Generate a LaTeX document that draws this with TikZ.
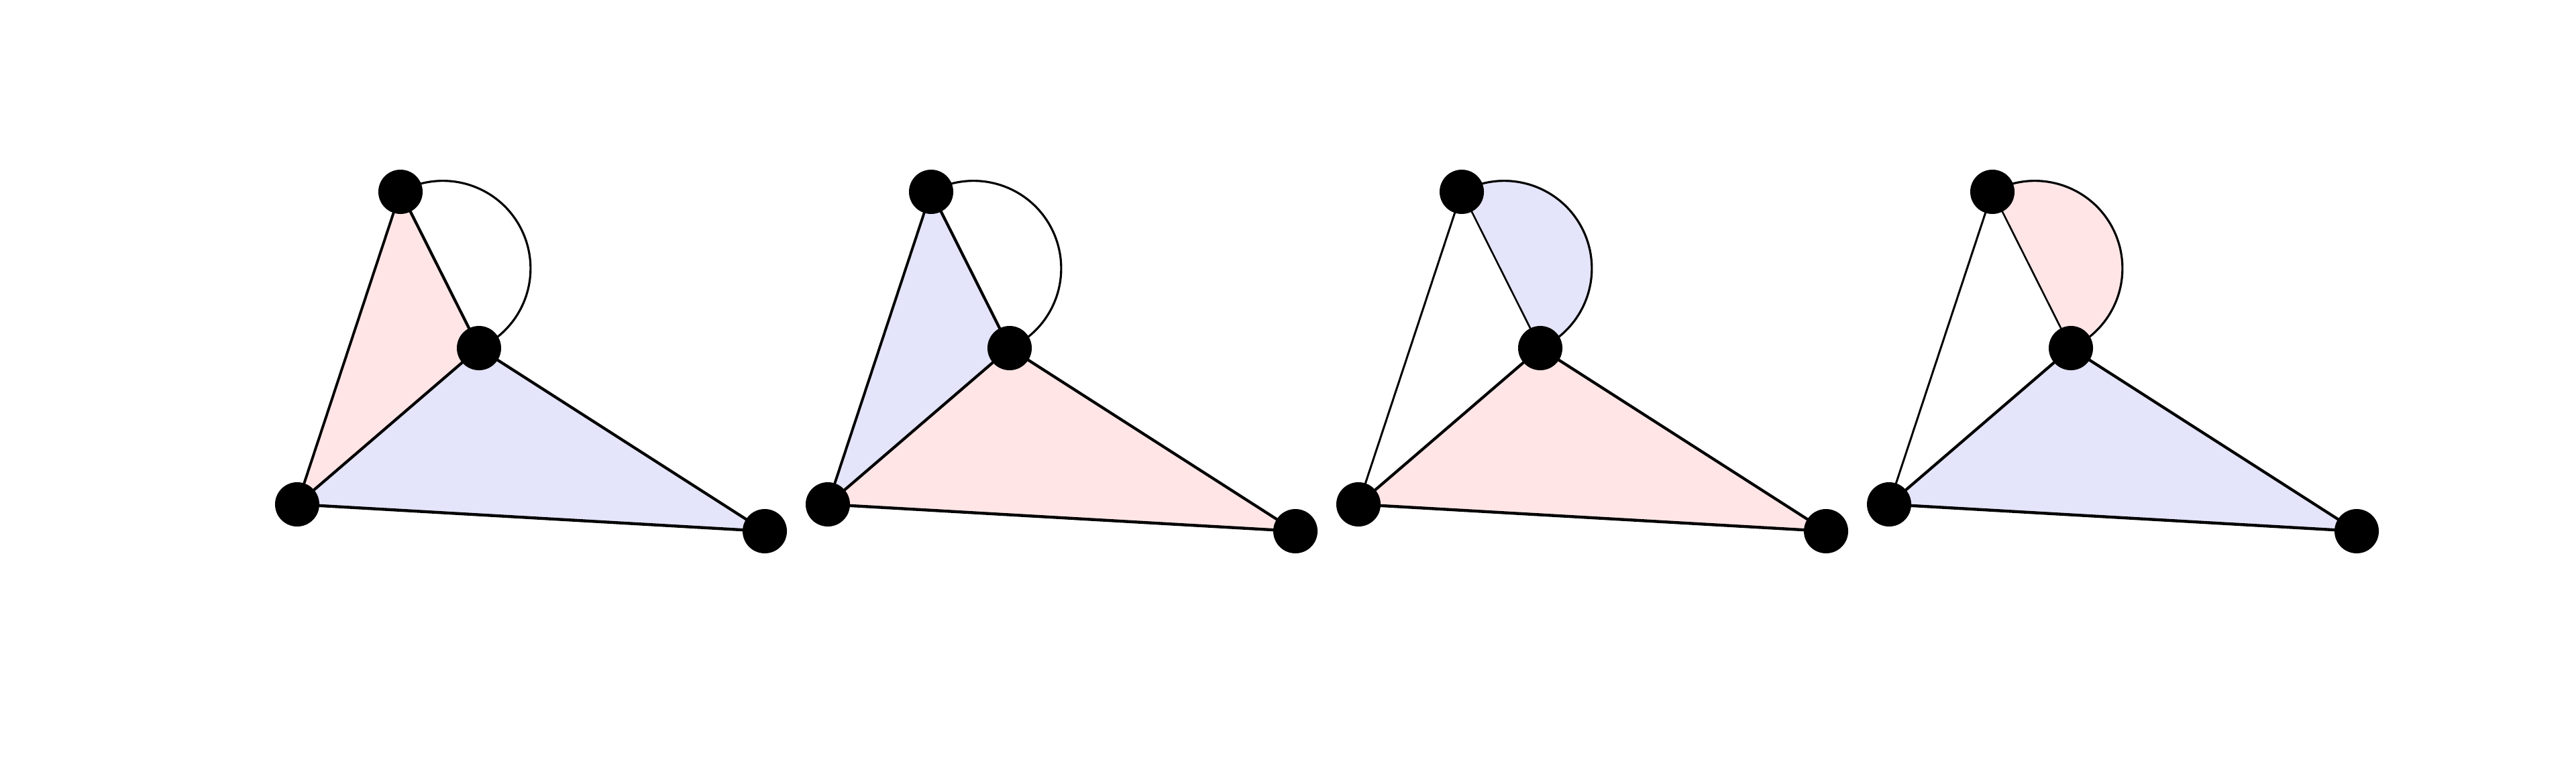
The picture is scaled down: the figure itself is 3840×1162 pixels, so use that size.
\documentclass[tikz,border=0pt]{standalone}
\definecolor{pinkf}{RGB}{255,229,230}
\definecolor{bluef}{RGB}{228,228,250}
\begin{document}
\begin{tikzpicture}[x=0.01cm,y=0.01cm,
  dot/.style={circle,fill=black,inner sep=0pt,minimum size=0.66cm},
  arcline/.style={line width=0.9pt}]
\useasboundingbox (0,0) rectangle (3840,1162);
\foreach \k/\fa/\fb/\fc/\wal/\wam in {0/pinkf/bluef/none/1.1/1.2, 1/bluef/pinkf/none/1.1/1.2, 2/none/pinkf/bluef/0.85/0.75, 3/none/bluef/pinkf/0.85/0.75} {
  \begin{scope}[shift={(\k*791,0)}]
    \coordinate (A\k) at (597,876);
    \coordinate (M\k) at (714,643);
    \coordinate (L\k) at (443,410);
    \coordinate (R\k) at (1140,370);
    \path[fill=\fa] (A\k) -- (L\k) -- (M\k) -- cycle;
    \path[fill=\fb] (L\k) -- (M\k) -- (R\k) -- cycle;
    \path[fill=\fc] (A\k) arc[start angle=119, end angle=-65.6, radius=1.305cm] -- cycle;
    \draw[line width=\wal pt] (A\k) -- (L\k);
    \draw[line width=\wam pt] (A\k) -- (M\k);
    \draw[line width=1.2pt] (L\k) -- (M\k);
    \draw[line width=1.2pt] (M\k) -- (R\k);
    \draw[line width=1.25pt] (L\k) -- (R\k);
    \draw[arcline] (A\k) arc[start angle=119, end angle=-65.6, radius=1.305cm];
    \node[dot] (nA\k) at (A\k) {};
    \node[dot] (nM\k) at (M\k) {};
    \node[dot] (nL\k) at (L\k) {};
    \node[dot] (nR\k) at (R\k) {};
  \end{scope}
}
\end{tikzpicture}
\end{document}
